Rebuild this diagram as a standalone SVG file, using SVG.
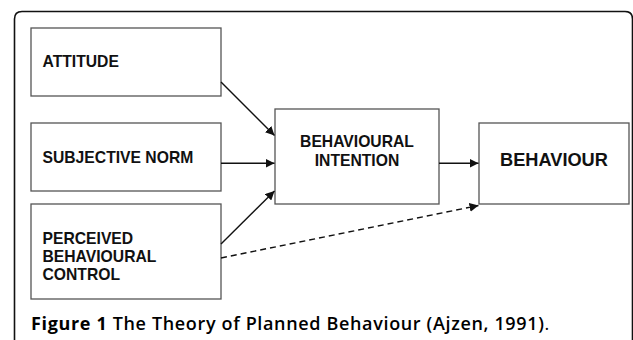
<svg xmlns="http://www.w3.org/2000/svg" width="633" height="340" viewBox="0 0 633 340">
<style>
.box{fill:#fff;stroke:#555;stroke-width:1.3}
.lbl{font-family:"Liberation Sans",Arial,sans-serif;font-weight:bold;font-size:15.7px;fill:#111}
.big{font-size:18.2px}
.edge{fill:none;stroke:#111;stroke-width:1.4}
.dash{stroke-dasharray:6 4}
.cap{font-family:"Open Sans","Noto Sans",sans-serif;font-size:18px;letter-spacing:0.65px;fill:#000}
</style>
<defs>
<marker id="ah" viewBox="0 0 10 10" refX="10" refY="5" markerWidth="9" markerHeight="9" markerUnits="userSpaceOnUse" orient="auto">
<path d="M0,0 L10,5 L0,10 Z" fill="#111"/>
</marker>
</defs>
<rect width="633" height="340" fill="#fff"/>
<path d="M14.5,345 L14.5,19 Q14.5,11.5 22,11.5 L625,11.5 Q632.5,11.5 632.5,19 L632.5,345" fill="none" stroke="#111" stroke-width="1.6"/>
<g id="attitude">
<rect class="box" x="31" y="28" width="190" height="68"/>
<text class="lbl" x="42.5" y="67">ATTITUDE</text>
</g>
<g id="subjective-norm">
<rect class="box" x="31" y="123" width="190" height="68"/>
<text class="lbl" x="42.5" y="162.5">SUBJECTIVE NORM</text>
</g>
<g id="pbc">
<rect class="box" x="31" y="204" width="190" height="95"/>
<text class="lbl" x="42.5" y="243.5">PERCEIVED</text>
<text class="lbl" x="42.5" y="261.8">BEHAVIOURAL</text>
<text class="lbl" x="42.5" y="280">CONTROL</text>
</g>
<g id="intention">
<rect class="box" x="275" y="109" width="164" height="95"/>
<text class="lbl" x="357" y="146.7" text-anchor="middle">BEHAVIOURAL</text>
<text class="lbl" x="357" y="165.7" text-anchor="middle">INTENTION</text>
</g>
<g id="behaviour">
<rect class="box" x="479" y="123" width="150" height="81"/>
<text class="lbl big" x="554" y="165.7" text-anchor="middle">BEHAVIOUR</text>
</g>
<g id="connectors">
<line class="edge" x1="221" y1="82" x2="274.5" y2="135.5" marker-end="url(#ah)"/>
<line class="edge" x1="221" y1="163.3" x2="274.5" y2="163.3" marker-end="url(#ah)"/>
<line class="edge" x1="221" y1="244" x2="274.5" y2="191" marker-end="url(#ah)"/>
<line class="edge" x1="439" y1="163.3" x2="478.5" y2="163.3" marker-end="url(#ah)"/>
<line class="edge dash" x1="221" y1="258" x2="478.5" y2="205.5" marker-end="url(#ah)"/>
</g>
<g id="caption">
<text class="cap" x="31" y="329.5"><tspan font-weight="bold">Figure 1</tspan><tspan font-weight="600"> The Theory of Planned Behaviour (Ajzen, 1991)</tspan><tspan font-weight="normal">.</tspan></text>
</g>
</svg>
